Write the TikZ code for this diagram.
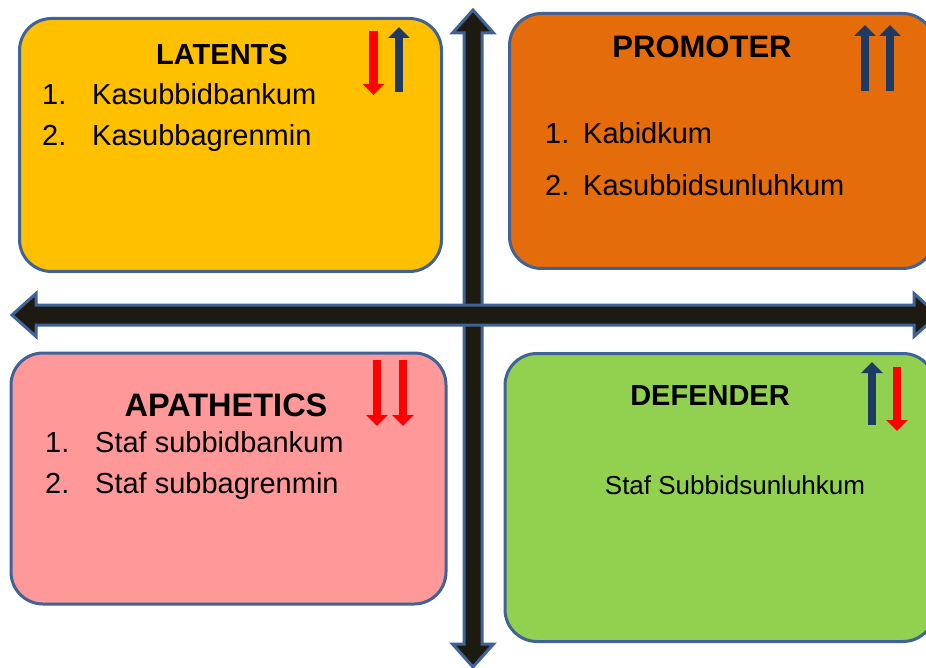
\documentclass[tikz,border=0pt]{standalone}
\usepackage{xcolor}
\usepackage{tikz}
\usepackage{fontspec}
\setmainfont{Liberation Sans}
\usetikzlibrary{arrows.meta, positioning, calc}

\definecolor{rimblue}{HTML}{3F6397}
\definecolor{axisdark}{HTML}{1D1B11}
\definecolor{latyellow}{HTML}{FFC000}
\definecolor{proorange}{HTML}{E46C0A}
\definecolor{apapink}{HTML}{FF9999}
\definecolor{defgreen}{HTML}{92D050}
\definecolor{upnavy}{HTML}{1F3A62}
\definecolor{downred}{HTML}{FF0000}

\tikzset{
  quad/.style={draw=rimblue, line width=3pt, rounded corners=32pt, inner sep=0pt},
  axis/.style={draw=rimblue, fill=axisdark, line width=3pt, line join=miter},
  title/.style={anchor=base, inner sep=0pt, font=\fontsize{#1}{#1}\selectfont\bfseries},
  item/.style={anchor=base west, inner sep=0pt, font=\fontsize{#1}{#1}\selectfont},
  uparr/.style={upnavy, line width=8.5pt, -{Triangle[width=21pt,length=11pt]}},
  downarr/.style={downred, line width=8.5pt, -{Triangle[width=21pt,length=11pt]}}
}

\begin{document}
\begin{tikzpicture}[x=1pt,y=-1pt]
    \useasboundingbox (0,0) rectangle (926,668);
    \clip (0,0) rectangle (926,668);

    % the four quadrants
    \node[quad, fill=latyellow, minimum width=422pt, minimum height=253pt] (latents) at (230.5,145) {};
    \node[quad, fill=proorange, minimum width=425pt, minimum height=255pt] (promoter) at (722,141) {};
    \node[quad, fill=apapink, minimum width=435pt, minimum height=251pt] (apathetics) at (228.5,478.5) {};
    \node[quad, fill=defgreen, minimum width=430pt, minimum height=288pt] (defender) at (720,497.5) {};

    % axes
    \draw[axis] (473,10) -- (452.5,33) -- (464,33) -- (464,644) -- (452.5,644) -- (473,667)
        -- (493.5,644) -- (482,644) -- (482,33) -- (493.5,33) -- cycle;
    \draw[axis] (12,315) -- (36,293.5) -- (36,305) -- (914,305) -- (914,293.5) -- (938,315)
        -- (914,336.5) -- (914,325) -- (36,325) -- (36,336.5) -- cycle;

    % LATENTS
    \node[title=29] (latT) at (222,65) {LATENTS};
    \node[item=29] (lat1n) at (42,105) {1.};
    \node[item=29] (lat1) at (92,105) {Kasubbidbankum};
    \node[item=29] (lat2n) at (42,146) {2.};
    \node[item=29] (lat2) at (92,146) {Kasubbagrenmin};
    \draw[downarr] (373.5,31) -- (373.5,95);
    \draw[uparr] (399,92) -- (399,27);

    % PROMOTER
    \node[title=31] (proT) at (702,58) {PROMOTER};
    \node[item=29] (pro1n) at (545,144) {1.};
    \node[item=29] (pro1) at (583,144) {Kabidkum};
    \node[item=29] (pro2n) at (545,196) {2.};
    \node[item=29] (pro2) at (583,196) {Kasubbidsunluhkum};
    \draw[uparr] (865,91) -- (865,25);
    \draw[uparr] (890,91) -- (890,25);

    % APATHETICS
    \node[title=32.5] (apaT) at (226,416) {APATHETICS};
    \node[item=29] (apa1n) at (45,452) {1.};
    \node[item=29] (apa1) at (95,452) {Staf subbidbankum};
    \node[item=29] (apa2n) at (45,493) {2.};
    \node[item=29] (apa2) at (95,493) {Staf subbagrenmin};
    \draw[downarr] (377,360) -- (377,426);
    \draw[downarr] (403,360) -- (403,426);

    % DEFENDER
    \node[title=29] (defT) at (710,405) {DEFENDER};
    \node[item=26, anchor=base] (def1) at (735,494) {Staf Subbidsunluhkum};
    \draw[uparr] (872,425) -- (872,362);
    \draw[downarr] (897,367) -- (897,431);
\end{tikzpicture}
\end{document}
